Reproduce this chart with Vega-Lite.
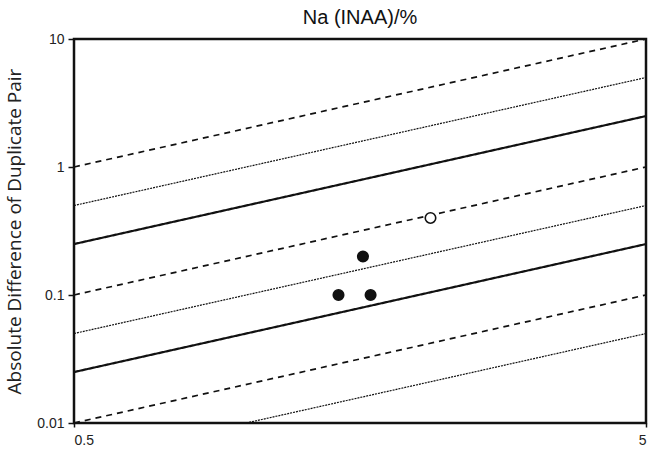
{
  "$schema": "https://vega.github.io/schema/vega-lite/v6.json",
  "width": 572,
  "height": 384,
  "autosize": {"type": "none"},
  "padding": {"left": 74, "top": 39, "right": 4, "bottom": 30},
  "background": "white",
  "config": {
    "view": {"stroke": "#111", "strokeWidth": 2.5},
    "axis": {"domain": false, "grid": false, "tickColor": "#111", "tickWidth": 1.5, "labelColor": "#222", "labelFont": "Liberation Sans", "labelFontSize": 14}
  },
  "title": {"text": "Na (INAA)/%", "font": "Liberation Sans", "fontSize": 20, "fontWeight": "normal", "color": "#111", "offset": 4},
  "datasets": {
    "lines": [
      {"line": "A", "kind": "dashed", "x": 0.5, "y": 1},
      {"line": "A", "kind": "dashed", "x": 5, "y": 10},
      {"line": "B", "kind": "dotted", "x": 0.5, "y": 0.5},
      {"line": "B", "kind": "dotted", "x": 5, "y": 5},
      {"line": "C", "kind": "solid", "x": 0.5, "y": 0.25},
      {"line": "C", "kind": "solid", "x": 5, "y": 2.5},
      {"line": "D", "kind": "dashed", "x": 0.5, "y": 0.1},
      {"line": "D", "kind": "dashed", "x": 5, "y": 1},
      {"line": "E", "kind": "dotted", "x": 0.5, "y": 0.05},
      {"line": "E", "kind": "dotted", "x": 5, "y": 0.5},
      {"line": "F", "kind": "solid", "x": 0.5, "y": 0.025},
      {"line": "F", "kind": "solid", "x": 5, "y": 0.25},
      {"line": "G", "kind": "dashed", "x": 0.5, "y": 0.01},
      {"line": "G", "kind": "dashed", "x": 5, "y": 0.1},
      {"line": "H", "kind": "dotted", "x": 1, "y": 0.01},
      {"line": "H", "kind": "dotted", "x": 5, "y": 0.05}
    ],
    "points": [
      {"x": 1.45, "y": 0.1, "type": "filled"},
      {"x": 1.65, "y": 0.1, "type": "filled"},
      {"x": 1.6, "y": 0.2, "type": "filled"},
      {"x": 2.1, "y": 0.4, "type": "open"}
    ]
  },
  "layer": [
    {
      "data": {"name": "lines"},
      "mark": {"type": "line", "color": "#111", "clip": true},
      "encoding": {
        "x": {"field": "x", "type": "quantitative", "scale": {"type": "log", "domain": [0.5, 5], "nice": false}, "axis": {"values": [0.5, 5], "format": ".1~f", "title": null, "tickSize": 4, "labelPadding": 6}},
        "y": {"field": "y", "type": "quantitative", "scale": {"type": "log", "domain": [0.01, 10], "nice": false}, "axis": {"values": [0.01, 0.1, 1, 10], "format": ".2~f", "title": "Absolute Difference of Duplicate Pair", "titleFont": "Open Sans", "titleFontSize": 19, "titleFontWeight": "normal", "titleColor": "#222", "titlePadding": 12, "tickSize": 6, "labelPadding": 4}},
        "detail": {"field": "line"},
        "strokeDash": {"field": "kind", "type": "nominal", "scale": {"domain": ["solid", "dashed", "dotted"], "range": [[1, 0], [6, 5], [2, 1]]}, "legend": null},
        "strokeWidth": {"field": "kind", "type": "nominal", "scale": {"domain": ["solid", "dashed", "dotted"], "range": [2.2, 1.2, 1]}, "legend": null}
      }
    },
    {
      "data": {"name": "points"},
      "mark": {"type": "point", "shape": "circle", "size": 110, "color": "#111", "strokeWidth": 1.6, "opacity": 1},
      "encoding": {
        "x": {"field": "x", "type": "quantitative"},
        "y": {"field": "y", "type": "quantitative"},
        "fill": {"field": "type", "type": "nominal", "scale": {"domain": ["filled", "open"], "range": ["#111", "white"]}, "legend": null}
      }
    }
  ]
}
